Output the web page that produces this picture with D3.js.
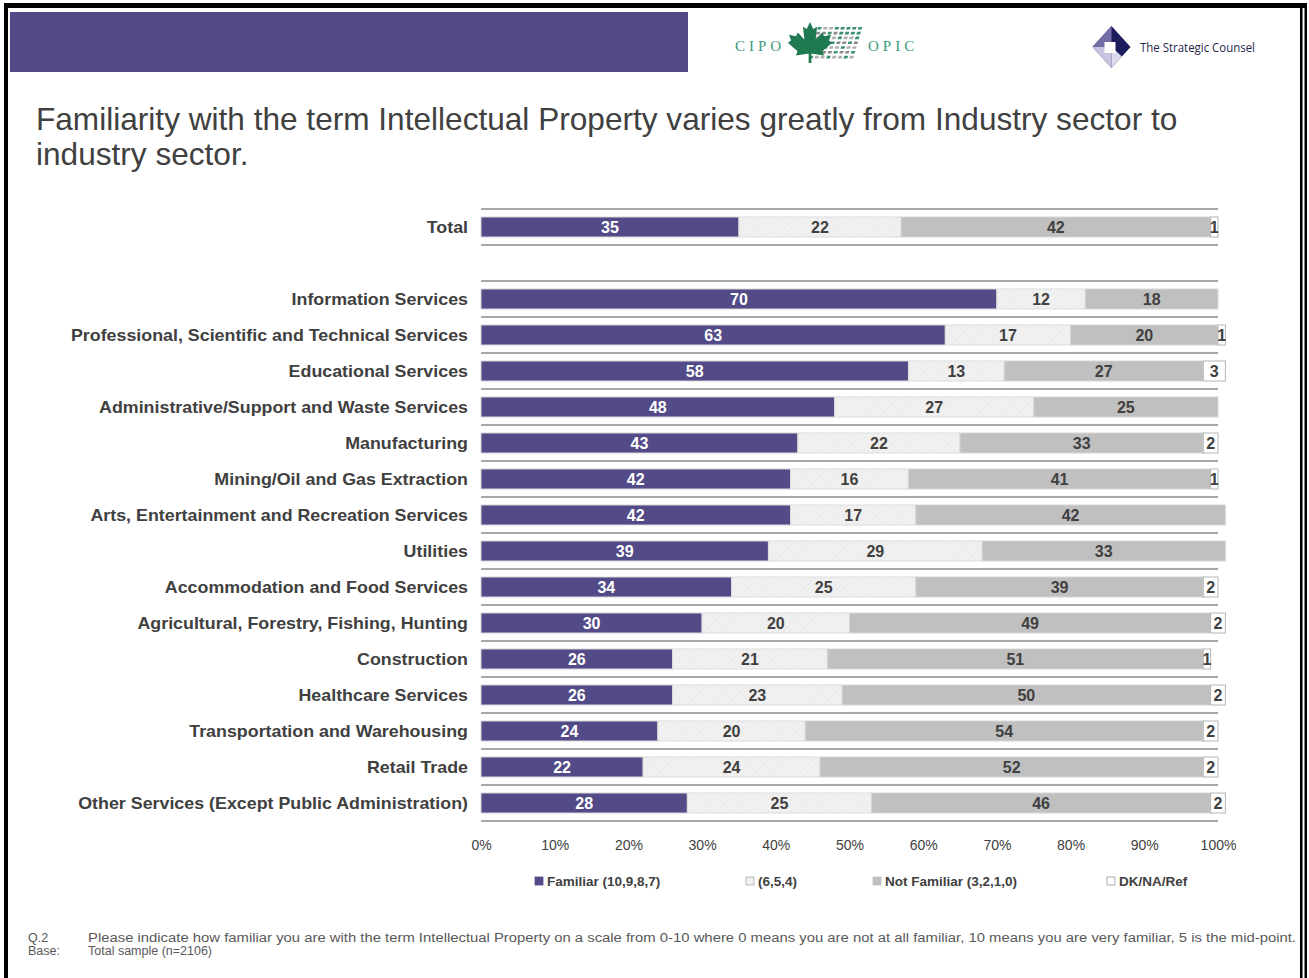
<!DOCTYPE html>
<html>
<head>
<meta charset="utf-8">
<script src="https://cdn.jsdelivr.net/npm/d3@7"></script>
<style>
  html, body { margin: 0; padding: 0; background: #fff; }
  svg { display: block; }
  text { font-family: "Liberation Sans", Arial, sans-serif; }
</style>
</head>
<body>
<svg id="chart" width="1309" height="978"></svg>
<script>
// ---- data -------------------------------------------------------------
const categories = [
  "Total",
  "Information Services",
  "Professional, Scientific and Technical Services",
  "Educational Services",
  "Administrative/Support and Waste Services",
  "Manufacturing",
  "Mining/Oil and Gas Extraction",
  "Arts, Entertainment and Recreation Services",
  "Utilities",
  "Accommodation and Food Services",
  "Agricultural, Forestry, Fishing, Hunting",
  "Construction",
  "Healthcare Services",
  "Transportation and Warehousing",
  "Retail Trade",
  "Other Services (Except Public Administration)"
];
const familiar    = [35, 70, 63, 58, 48, 43, 42, 42, 39, 34, 30, 26, 26, 24, 22, 28];
const neutral     = [22, 12, 17, 13, 27, 22, 16, 17, 29, 25, 20, 21, 23, 20, 24, 25];
const notFamiliar = [42, 18, 20, 27, 25, 33, 41, 42, 33, 39, 49, 51, 50, 54, 52, 46];
const dkNaRef     = [ 1,  0,  1,  3,  0,  2,  1,  0,  0,  2,  2,  1,  2,  2,  2,  2];

const seriesKeys   = ["familiar", "neutral", "notFamiliar", "dk"];
const seriesNames  = ["Familiar (10,9,8,7)", "(6,5,4)", "Not Familiar (3,2,1,0)", "DK/NA/Ref"];
const tickValues   = [0, 10, 20, 30, 40, 50, 60, 70, 80, 90, 100];

const titleLines = [
  "Familiarity with the term Intellectual Property varies greatly from Industry sector to",
  "industry sector."
];
const noteLabels = ["Q.2", "Base:"];
const noteTexts  = [
  "Please indicate how familiar you are with the term Intellectual Property on a scale from 0-10 where 0 means you are not at all familiar, 10 means you are very familiar, 5 is the mid-point.",
  "Total sample (n=2106)"
];

// ---- styles ---------------------------------------------------------------
const PURPLE = "#524b87";
const TEXT = "#404040";
const fills = { familiar: PURPLE, neutral: "url(#hatch)", notFamiliar: "#c0c0c0", dk: "#ffffff" };
const strokes = { familiar: "#d6d6d6", neutral: "#dcdcdc", notFamiliar: "#d6d6d6", dk: "#b5b5b5" };
const labelFill = { familiar: "#ffffff", neutral: TEXT, notFamiliar: TEXT, dk: TEXT };

const svg = d3.select("#chart");

// hatched fill used by the middle segment
const defs = svg.append("defs");
const pat = defs.append("pattern").attr("id", "hatch").attr("patternUnits", "userSpaceOnUse")
  .attr("width", 4).attr("height", 4).attr("patternTransform", "rotate(45)");
pat.append("rect").attr("width", 4).attr("height", 4).attr("fill", "#f1f1f1");
pat.append("line").attr("x1", 0).attr("y1", 0).attr("x2", 0).attr("y2", 4)
  .attr("stroke", "#e5e5e5").attr("stroke-width", 1.1);

// ---- slide frame & header ---------------------------------------------------
svg.append("rect").attr("x", 4).attr("y", 3).attr("width", 1303).attr("height", 5).attr("fill", "#000");
svg.append("rect").attr("x", 4).attr("y", 3).attr("width", 4).attr("height", 975).attr("fill", "#000");
svg.append("rect").attr("x", 1300).attr("y", 3).attr("width", 2.5).attr("height", 975).attr("fill", "#000");
svg.append("rect").attr("x", 1304.5).attr("y", 3).attr("width", 2.5).attr("height", 975).attr("fill", "#000");

svg.append("rect").attr("x", 10).attr("y", 12).attr("width", 678).attr("height", 60).attr("fill", "#534b87");

// CIPO / OPIC logo
const cipo = svg.append("g");
cipo.append("text").attr("x", 735).attr("y", 51).text("CIPO")
  .style("font-family", "'Liberation Serif', 'DejaVu Serif', serif").style("font-size", "15px")
  .style("letter-spacing", "4px").attr("fill", "#3c9a7c");
cipo.append("text").attr("x", 868).attr("y", 51).text("OPIC")
  .style("font-family", "'Liberation Serif', 'DejaVu Serif', serif").style("font-size", "15px")
  .style("letter-spacing", "4px").attr("fill", "#3c9a7c");
// dotted grid beside the leaf
for (let r = 0; r < 7; r++) {
  for (let c = 0; c < 8; c++) {
    const green = (r + c) % 3 === 0 || (r < 2 && c > 3);
    cipo.append("rect")
      .attr("x", 818 + c * 5.8 - r * 1.4).attr("y", 27 + r * 4.8)
      .attr("width", 3.8).attr("height", 2.6)
      .attr("transform", `skewX(-20)`)
      .attr("transform-origin", `${818 + c * 5.8 - r * 1.4} ${27 + r * 4.8}`)
      .attr("fill", green ? "#3a8f6f" : (r % 2 ? "#8a8a8a" : "#b0b0b0"));
  }
}
// maple leaf
const halfLeaf = [[0,-1],[0.12,-0.74],[0.26,-0.82],[0.21,-0.34],[0.45,-0.6],[0.52,-0.46],[0.78,-0.52],
  [0.7,-0.3],[0.82,-0.22],[0.46,0.1],[0.52,0.26],[0.1,0.2],[0.05,0.2],[0.05,0.55]];
const leafPts = halfLeaf.concat(halfLeaf.slice().reverse().map(([x, y]) => [-x, y]));
cipo.append("path")
  .attr("d", d3.line().x(d => 810 + d[0] * 27).y(d => 48.5 + d[1] * 26.5)(leafPts) + "Z")
  .attr("fill", "#1f7a52");

// The Strategic Counsel logo
const sc = svg.append("g");
const cx = 1111.5, cy = 47, hw = 19, hh = 21;
sc.append("path").attr("d", `M${cx},${cy - hh}L${cx + hw},${cy}L${cx},${cy + hh}L${cx - hw},${cy}Z`).attr("fill", "#1c1b5c");
sc.append("path").attr("d", `M${cx},${cy - hh}L${cx},${cy}L${cx - hw},${cy}Z`).attr("fill", "#726ea8");
sc.append("path").attr("d", `M${cx - hw},${cy}L${cx},${cy}L${cx},${cy + hh}Z`).attr("fill", "#c7c5df");
sc.append("path").attr("d", `M${cx},${cy}L${cx + hw * 0.55},${cy + hh * 0.45}L${cx},${cy + hh}Z`).attr("fill", "#dcdaec");
sc.append("rect").attr("x", cx - 7).attr("y", cy - 5).attr("width", 11).attr("height", 11).attr("fill", "#fff");
sc.append("text").attr("x", 1140).attr("y", 52).text("The Strategic Counsel")
  .attr("textLength", 115).attr("lengthAdjust", "spacingAndGlyphs")
  .style("font-family", "'Open Sans', sans-serif").style("font-size", "12.5px").attr("fill", "#26264a");

// ---- title ------------------------------------------------------------------
svg.append("g").selectAll("text").data(titleLines).join("text")
  .attr("x", 36).attr("y", (d, i) => 130 + i * 35)
  .style("font-size", "31.6px").attr("fill", TEXT).text(d => d);

// ---- chart ------------------------------------------------------------------
const table = categories.map((c, i) => ({
  cat: c, familiar: familiar[i], neutral: neutral[i], notFamiliar: notFamiliar[i], dk: dkNaRef[i]
}));
// blank row separates the total from the sector rows
const bandDomain = [categories[0], "", ...categories.slice(1)];

const x = d3.scaleLinear().domain([0, 100]).range([481, 1218]);
const y = d3.scaleBand().domain(bandDomain).range([209, 209 + 36 * bandDomain.length]).padding(0);
const barH = 20;

// separators at every band edge
const edges = bandDomain.map(d => y(d)).concat([y.range()[1]]);
svg.append("g").selectAll("line").data(edges).join("line")
  .attr("x1", x(0)).attr("x2", x(100)).attr("y1", d => d).attr("y2", d => d)
  .attr("stroke", "#505050").attr("stroke-width", 1.2);

const stacked = d3.stack().keys(seriesKeys)(table);

const segs = svg.append("g").selectAll("g").data(stacked).join("g");
segs.selectAll("rect").data(s => s.map(d => ({ key: s.key, d }))).join("rect")
  .filter(o => o.d[1] - o.d[0] > 0)
  .attr("x", o => x(o.d[0]))
  .attr("y", o => y(o.d.data.cat) + (y.bandwidth() - barH) / 2)
  .attr("width", o => x(o.d[1]) - x(o.d[0]))
  .attr("height", barH)
  .attr("fill", o => fills[o.key])
  .attr("stroke", o => strokes[o.key]).attr("stroke-width", 1);

const labelG = svg.append("g");
stacked.forEach(s => {
  s.forEach(d => {
    const v = d[1] - d[0];
    if (v <= 0) return;
    labelG.append("text")
      .attr("x", x((d[0] + d[1]) / 2))
      .attr("y", y(d.data.cat) + y.bandwidth() / 2)
      .attr("dy", "0.36em")
      .attr("text-anchor", "middle")
      .style("font-size", "16px").style("font-weight", "bold")
      .attr("fill", labelFill[s.key])
      .text(v);
  });
});

// category axis
const yAxis = svg.append("g").attr("transform", `translate(${x(0) - 13},0)`)
  .call(d3.axisLeft(y).tickSize(0).tickPadding(0));
yAxis.select(".domain").remove();
yAxis.selectAll("text")
  .style("font-size", "16px").style("font-weight", "bold")
  .style("font-family", "'Liberation Sans', Arial, sans-serif")
  .attr("fill", TEXT)
  .attr("dy", "0.4em")
  .attr("transform", "scale(1.115,1)");

// percentage axis
const xAxis = svg.append("g").attr("transform", "translate(0,840)")
  .call(d3.axisBottom(x).tickValues(tickValues).tickFormat(d => d + "%").tickSize(0).tickPadding(0));
xAxis.select(".domain").remove();
xAxis.selectAll("text")
  .style("font-size", "14px").style("font-family", "'Liberation Sans', Arial, sans-serif")
  .attr("fill", TEXT);

// ---- legend ------------------------------------------------------------------
const legendX = [535, 746, 873, 1107];
const legendFill = [PURPLE, "#f1f1f1", "#c0c0c0", "#ffffff"];
const legendStroke = [PURPLE, "#aaaaaa", "#c0c0c0", "#999999"];
const lg = svg.append("g").selectAll("g").data(seriesNames).join("g")
  .attr("transform", (d, i) => `translate(${legendX[i]},881)`);
lg.append("rect").attr("x", 0).attr("y", -4).attr("width", 8).attr("height", 8)
  .attr("fill", (d, i) => legendFill[i]).attr("stroke", (d, i) => legendStroke[i]).attr("stroke-width", 0.8);
lg.append("text").attr("x", 12).attr("y", 0).attr("dy", "0.36em")
  .style("font-size", "13.5px").style("font-weight", "bold").attr("fill", TEXT)
  .text(d => d);

// ---- note --------------------------------------------------------------------
const note = svg.append("g");
note.selectAll("text.lbl").data(noteLabels).join("text").attr("class", "lbl")
  .attr("x", 28).attr("y", (d, i) => 942 + i * 13)
  .style("font-size", "12.5px").attr("fill", "#595959").text(d => d);
note.selectAll("text.txt").data(noteTexts).join("text").attr("class", "txt")
  .attr("x", 88).attr("y", (d, i) => 942 + i * 13)
  .style("font-size", "12.5px").attr("fill", "#595959").text(d => d)
  .each(function (d, i) { if (i === 0) d3.select(this).attr("textLength", 1296 - 88).attr("lengthAdjust", "spacingAndGlyphs"); });
</script>
</body>
</html>
